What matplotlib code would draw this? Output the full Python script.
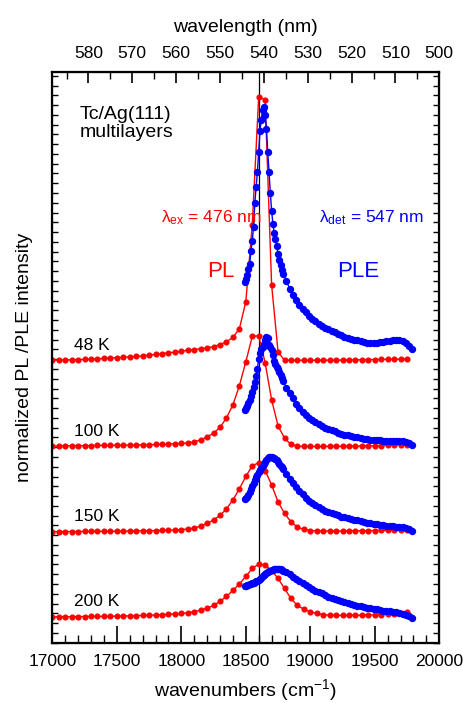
import numpy as np
import matplotlib
matplotlib.use("Agg")
import matplotlib.pyplot as plt
from matplotlib.ticker import MultipleLocator

plt.rcParams['font.family'] = ['Liberation Sans', 'DejaVu Sans']
plt.rcParams['mathtext.fontset'] = 'custom'
plt.rcParams['mathtext.rm'] = 'Liberation Sans'
plt.rcParams['mathtext.it'] = 'Liberation Sans:italic'

# PL: excitation 476 nm, wavenumber grid (cm-1)
pl_wn = np.arange(17000, 19751, 50)
# PLE: detection 547 nm, finer steps around the peak
ple_wn = np.concatenate([np.arange(18490, 18790, 10), np.arange(18790, 19791, 25)])

temps = ["48 K", "100 K", "150 K", "200 K"]
offsets = [282.2, 196.4, 111.0, 25.9]

pl_48 = [0.2, 0.3, 0.4, 0.5, 0.7, 0.9, 1.2, 1.5, 1.9, 2.3, 2.7,
         3.1, 3.5, 3.9, 4.5, 5.2, 5.9, 6.7, 7.5, 8.2, 9.0,
         10.2, 10.8, 11.5, 12.3, 13.8, 15.8, 18.5, 23, 31.5, 58.5,
         135.5, 263.5, 260.5, 75.5, 8.5,
         0, 0, 0, 0, 0, 0.1, 0.1, 0.2, 0.2, 0.3, 0.4, 0.5, 0.6, 0.7, 0.8, 0.9, 1.0, 1.1, 1.2, 1.3]
pl_100 = [0.3, 0.3, 0.4, 0.4, 0.5, 0.5, 0.6, 0.7, 0.8, 0.9, 1.0,
          1.0, 1.1, 1.2, 1.3, 1.5, 1.7, 1.9, 2.1, 2.4, 2.7,
          3.3, 4.3, 6.3, 9.3, 13, 18.8, 28.3, 41.3, 60.3, 84.3,
          109.8, 110.3, 83.3, 46.3, 20.3,
          8, 1.8, 0, 0, -0.3, -0.3, -0.2, -0.2, -0.1, -0.1, 0, 0, 0.2, 0.3, 0.4, 0.6, 0.8, 1.0, 1.2, 1.3]
pl_150 = [0, 0, 0.1, 0.1, 0.1, 0.2, 0.2, 0.3, 0.3, 0.4, 0.4,
          0.5, 0.6, 0.7, 0.8, 0.9, 1.0, 1.2, 1.4, 1.7, 2.0,
          2.7, 3.4, 5.7, 8.2, 11.7, 16.2, 22.7, 31.7, 42.7, 55.2,
          65.7, 69, 61, 46.7, 29.7,
          18.2, 9.9, 4.4, 2.2, 1.0, 0.7, 0.6, 0.6, 0.6, 0.7, 0.7, 0.8, 0.9, 1.0, 1.1, 1.2, 1.3, 1.4, 1.5, 1.6]
pl_200 = [0, 0, 0.1, 0.1, 0.2, 0.2, 0.3, 0.3, 0.4, 0.5, 0.6,
          0.8, 0.9, 1.1, 1.3, 1.5, 1.8, 2.1, 2.5, 2.9, 3.3,
          4.0, 5.0, 6.6, 8.6, 11.3, 15.5, 20.3, 26.3, 32.8, 40.3,
          48.3, 52.6, 51.8, 46.3, 38.3,
          28.3, 18.3, 11.3, 7.5, 5.0, 3.3, 2.2, 1.6, 1.4, 1.4, 1.4, 1.5, 1.6, 1.7, 1.9, 2.1, 2.5, 3.0, 3.5, 4.5]

ple_48 = [78.5, 81, 85.5, 91, 96.5, 109.5, 119.5, 133.5, 157.5, 173.5,
          188.5, 208.5, 229.5, 240.5, 250.5, 253.5, 245.5, 231.5, 208.5, 188.5,
          167.5, 149.5, 136.5, 127.5, 121.5, 114.5, 106.5, 100.5, 95.5, 90.5,
          86.5, 79.5, 71.5, 65.5, 60.5, 55.5, 51.5, 48, 44.5, 41.5,
          39, 36.5, 34.5, 32.5, 31, 29.5, 28, 26.5, 25, 23.8,
          22.8, 21.8, 20.8, 20, 19.2, 18.5, 17.8, 17.5, 17.5, 17.8,
          18.2, 18.8, 19.3, 19.8, 20.2, 20.5, 20.2, 19, 17, 14, 11]
ple_100 = [35.8, 37.8, 39.8, 42.8, 46.3, 50.3, 54.3, 58.8, 63.8, 70.3,
           76.8, 87.3, 93.3, 96.8, 99.3, 101.8, 106.3, 109.3, 108.3, 101.3,
           98.8, 96.3, 90.8, 85.3, 82.3, 79.3, 76.8, 74.3, 71.3, 67.8,
           64.8, 58.3, 52.8, 47.8, 42.3, 37.8, 33.8, 30.8, 28.3, 26.3,
           23.8, 21.8, 20.3, 18.6, 17.3, 16, 14.8, 13.6, 12.5, 11.6,
           10.8, 10.1, 9.5, 8.8, 8.3, 7.6, 7, 6.6, 6.3, 6,
           5.8, 5.6, 5.5, 5.3, 5.3, 5.5, 5.5, 5.1, 4.5, 2.8, 0.8]
ple_150 = [32.2, 33.2, 34.4, 36.7, 39.4, 42.2, 45.4, 48.4, 51.2, 54.2,
           56.7, 59.2, 61.7, 64, 66, 67.7, 69.2, 71.2, 73.4, 74.2,
           74.4, 74.2, 73.7, 73.1, 72.4, 71.5, 69.9, 67.7, 65.9, 64.2,
           62.4, 57.2, 52.7, 48.7, 44.2, 40.7, 37.2, 33.4, 30.7, 28.7,
           26.4, 24.2, 22.7, 21, 19.7, 18.3, 17.2, 16.2, 15.1, 14.2,
           13.3, 12.5, 11.8, 11.2, 10.7, 9.9, 9, 8.5, 8, 7.5,
           7, 6.4, 6, 5.6, 5.3, 5, 4.7, 4.3, 3.9, 2.7, 0.7]
ple_200 = [30.8, 31.2, 31.6, 32.1, 32.6, 33.2, 33.7, 34.2, 34.7, 35.3,
           36.1, 37, 38.1, 39.2, 40.3, 41.6, 42.8, 43.8, 44.7, 45.5,
           46.1, 46.7, 47.2, 47.6, 47.8, 47.8, 47.8, 47.6, 47.3, 46.8,
           46.1, 44.5, 42.3, 40.1, 37.8, 35.6, 33.4, 31.4, 29.6, 27.8,
           25.9, 24.6, 23.4, 21.8, 20.1, 18.8, 17.5, 16.5, 15.3, 14.3,
           13.4, 12.6, 11.8, 11, 10.4, 9.8, 9, 8.4, 7.8, 7.3,
           6.7, 6.1, 5.8, 5.4, 5, 4.5, 4, 3.2, 2.2, 0.8, -1.2]

pl_all = [pl_48, pl_100, pl_150, pl_200]
ple_all = [ple_48, ple_100, ple_150, ple_200]
line_wn = 18600

fig = plt.figure(figsize=(4.63, 7.03), dpi=100, facecolor="white")
ax = fig.add_axes([0.113, 0.0858, 0.8358, 0.8122])

ax.axvline(line_wn, color='black', lw=0.9, zorder=1)
for off, pl, ple in zip(offsets, pl_all, ple_all):
    ax.plot(pl_wn, np.array(pl) + off, color='#ff0000', lw=1.0, marker='o',
            ms=3.4, mec='#ff0000', mfc='#ff0000', zorder=2)
    ax.plot(ple_wn, np.array(ple) + off, color='#0000ff', lw=1.0, marker='o',
            ms=4.3, mec='#0000ff', mfc='#0000ff', zorder=3)

ax.set_xlim(17000, 20000)
ax.set_ylim(0, 570.7)
ax.xaxis.set_major_locator(MultipleLocator(500))
ax.xaxis.set_minor_locator(MultipleLocator(100))
ax.yaxis.set_major_locator(MultipleLocator(9.77))
ax.tick_params(axis='x', which='major', direction='in', length=12, width=1.2,
               labelsize=12.5, pad=8, top=False)
ax.tick_params(axis='x', which='minor', direction='in', length=6, width=1.0, top=False)
ax.tick_params(axis='y', which='major', direction='in', length=4, width=1.0,
               left=True, right=True, labelleft=False)
ax.set_xlabel("wavenumbers (cm$^{-1}$)", fontsize=14, labelpad=6)
ax.set_ylabel("normalized PL /PLE intensity", fontsize=14, labelpad=14)
for s in ax.spines.values():
    s.set_linewidth(1.6)

# top axis: wavelength, linear scale as in the original figure
ax2 = ax.twiny()
ax2.set_xlim(1e7 / 17000, 500)
ax2.xaxis.set_major_locator(MultipleLocator(10))
ax2.xaxis.set_minor_locator(MultipleLocator(5))
ax2.tick_params(axis='x', which='major', direction='in', length=8, width=1.2,
                labelsize=12.5, pad=8)
ax2.tick_params(axis='x', which='minor', direction='in', length=5, width=1.0)
ax2.set_xlim(1e7 / 17000, 500)
ax2.set_xlabel("wavelength (nm)", fontsize=14, labelpad=10)

ax.text(0.07, 0.94, "Tc/Ag(111)\nmultilayers", transform=ax.transAxes,
        fontsize=14, va='top', ha='left', linespacing=1.1)
ax.text(0.28, 0.745, r"λ$_{\rm ex}$ = 476 nm", transform=ax.transAxes,
        fontsize=12.5, color='#ff0000', va='center', ha='left')
ax.text(0.69, 0.745, r"λ$_{\rm det}$ = 547 nm", transform=ax.transAxes,
        fontsize=12.5, color='#0000ff', va='center', ha='left')
ax.text(0.435, 0.65, "PL", transform=ax.transAxes, fontsize=16,
        color='#ff0000', va='center', ha='center')
ax.text(0.79, 0.65, "PLE", transform=ax.transAxes, fontsize=16,
        color='#0000ff', va='center', ha='center')

for off, t in zip(offsets, temps):
    ax.text(17170, off + 15, t, fontsize=12.5, va='center', ha='left')

fig.savefig("out.png", dpi=100, facecolor="white")
